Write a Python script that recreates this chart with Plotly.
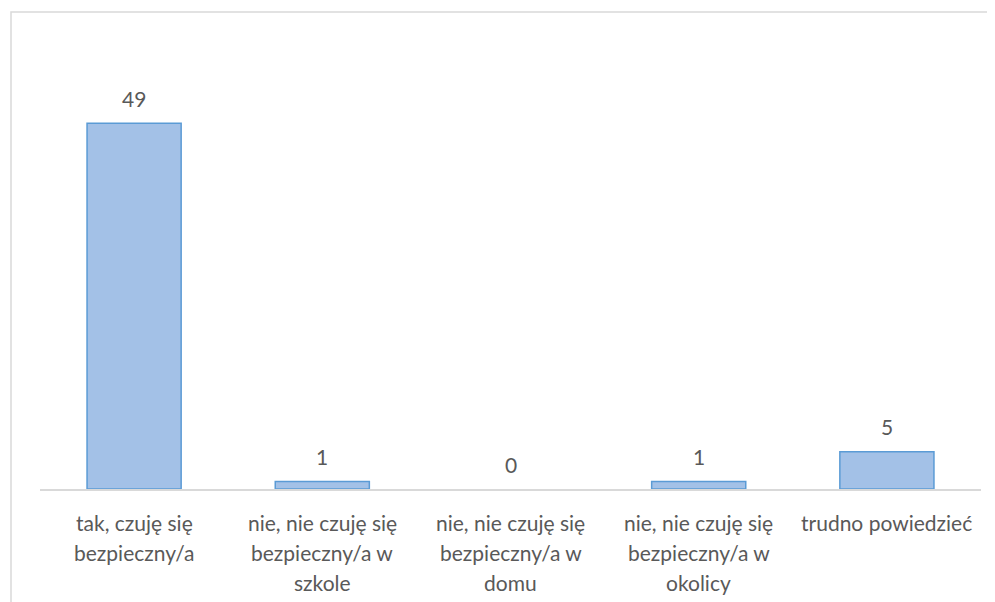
import plotly.graph_objects as go

categories = [
    "tak, czuję się bezpieczny/a",
    "nie, nie czuję się bezpieczny/a w szkole",
    "nie, nie czuję się bezpieczny/a w domu",
    "nie, nie czuję się bezpieczny/a w okolicy",
    "trudno powiedzieć",
]
label_lines = [
    ["tak, czuję się", "bezpieczny/a"],
    ["nie, nie czuję się", "bezpieczny/a w", "szkole"],
    ["nie, nie czuję się", "bezpieczny/a w", "domu"],
    ["nie, nie czuję się", "bezpieczny/a w", "okolicy"],
    ["trudno powiedzieć"],
]
values = [49, 1, 0, 1, 5]

FONT = "Lato"
TXT = "#595959"
FS = 21

fig = go.Figure()
fig.add_trace(go.Bar(
    x=categories, y=values, width=0.5,
    marker=dict(color="#a3c1e7",
                line=dict(color="#5b9bd5", width=[1.5 if v > 0 else 0 for v in values])),
    hoverinfo="skip",
))

ann = []
for c, v in zip(categories, values):
    ann.append(dict(x=c, y=v, xref="x", yref="y", text=str(v), showarrow=False,
                    yanchor="middle", yshift=25,
                    font=dict(family=FONT, size=FS, color=TXT)))
for c, lines in zip(categories, label_lines):
    for i, ln in enumerate(lines):
        ann.append(dict(x=c, y=0, xref="x", yref="y", text=ln, showarrow=False,
                        yanchor="middle", yshift=-33 - 30 * i,
                        font=dict(family=FONT, size=FS, color=TXT)))

# plot area in page pixels (page has 8px body offset)
L, R, T, B = 32, 973, 33, 481
fig.update_layout(
    width=995, height=602,
    margin=dict(l=L, r=995 - R, t=T, b=602 - B),
    paper_bgcolor="white", plot_bgcolor="white",
    showlegend=False,
    annotations=ann,
    xaxis=dict(showticklabels=False, showline=True, linecolor="#d9d9d9", linewidth=2,
               showgrid=False, ticks="", zeroline=False),
    yaxis=dict(range=[0, 60], visible=False, showgrid=False, zeroline=False),
    shapes=[dict(type="rect", xref="paper", yref="paper",
                 x0=(3 - L) / (R - L), x1=1.2, y0=-0.4, y1=(B - 4) / (B - T),
                 line=dict(color="#d9d9d9", width=1.5), fillcolor="rgba(0,0,0,0)",
                 layer="below")],
)
fig.write_html("out.html")
